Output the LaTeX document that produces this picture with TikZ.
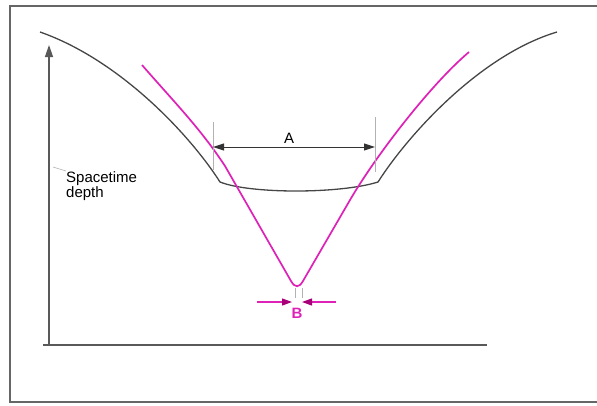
\documentclass[tikz,border=0pt]{standalone}
\usepackage{fontspec}
\setmainfont{Liberation Sans}
\usetikzlibrary{arrows.meta}
\definecolor{wellpink}{RGB}{222,34,184}
\definecolor{tippink}{RGB}{168,0,120}
\definecolor{wellgray}{RGB}{70,70,70}

\begin{document}
\begin{tikzpicture}[
        x=1pt, y=-1pt,
        frameline/.style={draw=gray!80!black, line width=2pt},
        axisline/.style={draw=gray!70!black, line width=1.3pt},
        wellcurve/.style={draw=wellgray, line width=1.3pt, line join=miter},
        pinkcurve/.style={draw=wellpink, line width=1.7pt, line join=round},
        guide/.style={draw=gray!60, line width=0.6pt},
        dimline/.style={{Triangle[length=11pt,width=7pt]}-{Triangle[length=11pt,width=7pt]}, draw=black!80, line width=1pt},
        barb/.style={draw=wellpink, line width=1.2pt, -{Triangle[length=10pt,width=7pt,color=tippink]}},
        lbl/.style={font=\fontsize{15}{15}\selectfont, inner sep=0pt}
    ]
        \useasboundingbox (0,0) rectangle (597,405);
        % frame
        \draw[frameline] (599,6) -- (10,6) -- (10,402) -- (599,402);
        % axes
        \coordinate (origin) at (49,345);
        \coordinate (ytop) at (49,45);
        \coordinate (xleft) at (43,345);
        \coordinate (xright) at (487,345);
        \draw[axisline, -{Triangle[length=12pt,width=8pt]}] (origin) -- (ytop);
        \draw[axisline] (xleft) -- (xright);
        % spacetime curve
        \draw[wellcurve] (40,32) .. controls (120,60) and (190,135) .. (220,182)
            .. controls (250,194) and (340,194) .. (378,182)
            .. controls (408,135) and (480,55) .. (557,32);
        % pink well
        \draw[pinkcurve] (142,65) .. controls (175,103) and (200,128) .. (225,166) -- (291,281)
            .. controls (295,288) and (299,288) .. (303,281) -- (350,200)
            .. controls (375,157) and (430,85) .. (469,52);
        % dimension A
        \coordinate (a1top) at (213,122);
        \coordinate (a1bot) at (213,170);
        \coordinate (a2top) at (375,117);
        \coordinate (a2bot) at (375,172);
        \draw[guide] (a1top) -- (a1bot);
        \draw[guide] (a2top) -- (a2bot);
        \coordinate (aleft) at (213,147);
        \coordinate (aright) at (375,147);
        \draw[dimline] (aleft) -- (aright);
        \node[lbl, anchor=base] (labA) at (289,143) {A};
        % dimension B
        \coordinate (b1top) at (295,288);
        \coordinate (b1bot) at (295,298);
        \coordinate (b2top) at (302,288);
        \coordinate (b2bot) at (302,298);
        \draw[guide] (b1top) -- (b1bot);
        \draw[guide] (b2top) -- (b2bot);
        \coordinate (bout1) at (257,302);
        \coordinate (bin1) at (292,302);
        \coordinate (bout2) at (336,302);
        \coordinate (bin2) at (302,302);
        \draw[barb] (bout1) -- (bin1);
        \draw[barb] (bout2) -- (bin2);
        \node[lbl, text=wellpink, font=\fontsize{15}{15}\selectfont\bfseries, anchor=base] (labB) at (297,318) {B};
        % axis label
        \node[lbl, anchor=north west, align=left] (depth) at (66,171) {Spacetime\\depth};
        \coordinate (lead) at (53,167);
        \draw[guide] (lead) -- (depth.north west);
    \end{tikzpicture}
\end{document}
